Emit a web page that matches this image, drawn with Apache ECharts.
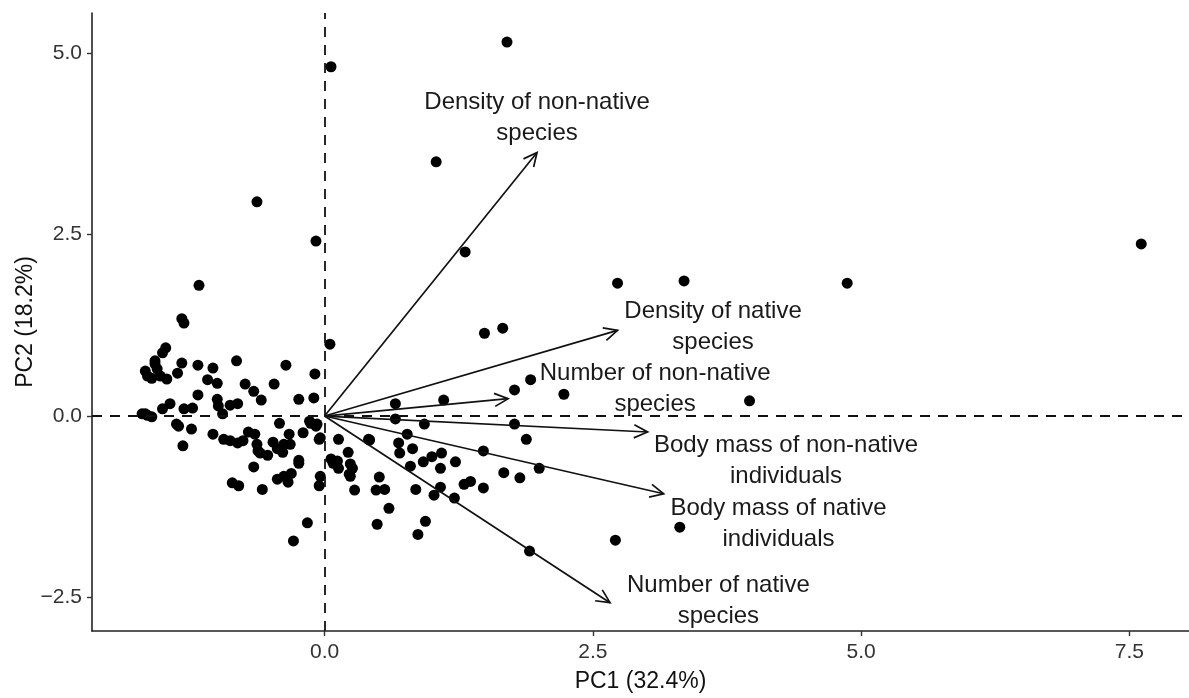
<!DOCTYPE html>
<html>
<head>
<meta charset="utf-8">
<script src="https://cdn.jsdelivr.net/npm/echarts@6/dist/echarts.min.js"></script>
<style>
  html, body { margin: 0; padding: 0; background: #fff; }
  #pca { width: 1189px; height: 698px; }
</style>
</head>
<body>
<div id="pca"></div>
<script>
  // site scores
  const pc1 = [
    0.06, -0.63, -0.08, 1.70, 1.04, 1.31, 2.73, 3.35, 4.87, 7.61, 3.96,
    1.49, 1.66, 0.05, -0.09, -0.10, 1.92, 1.77, 2.23, 0.66, 1.11,
    0.66, 0.93, 1.77, 1.88, 0.77, 0.42, 0.69, 0.70, 0.82, 0.13, 0.22,
    1.48, 1.09, 1.00, 1.22, 0.92, -0.20, -0.13, -0.04, 0.08, 0.24,
    2.00, 1.67, 1.82, 1.48, 1.30, 1.36, 1.08, 1.08, 1.02, 1.21, 0.85,
    0.94, 0.87, 0.60, 0.49, 0.51, 0.48, 0.56, 0.28, 0.23, 0.13,
    -0.04, -0.05, -0.16, 1.91, 2.71, 3.31, 0.80,
    -0.86, -0.80, -0.66, -0.58, -0.44, -0.38, -0.34, -0.31, -0.24, -0.29,
    -1.17, -1.33, -1.31, -1.48, -1.51, -1.58, -1.67, -1.61, -1.58, -1.56,
    -1.53, -1.65, -1.33, -1.37, -1.47, -1.18, -1.04, -0.82, -0.36, -1.09,
    -1.00, -0.74, -0.66, -0.59, -0.47, -0.24, -1.18, -1.00, -0.99, -0.88,
    -0.81, -0.95, -1.23, -1.31, -1.44, -1.51, -1.70, -1.65, -1.61, -1.38,
    -1.36, -1.24, -1.32, -1.04, -0.94, -0.88, -0.81, -0.71, -0.65, -0.63,
    -0.62, -0.53, -0.48, -0.42, -0.39, -0.38, -0.33, -0.24, -0.07, -0.05,
    -0.14, -0.08, 0.06, 0.12, 0.26, -0.76, -0.44, -0.60, -0.32, -1.67,
    0.24, 0.41
  ];
  const pc2 = [
    4.81, 2.95, 2.41, 5.15, 3.50, 2.26, 1.83, 1.86, 1.83, 2.37, 0.21,
    1.14, 1.21, 0.99, 0.58, 0.25, 0.50, 0.36, 0.30, 0.17, 0.22,
    -0.04, -0.11, -0.11, -0.32, -0.25, -0.33, -0.37, -0.51, -0.45, -0.32, -0.50,
    -0.48, -0.51, -0.56, -0.63, -0.63, -0.23, -0.10, -0.30, -0.65, -0.66,
    -0.72, -0.78, -0.85, -0.99, -0.94, -0.90, -0.72, -0.98, -1.09, -1.13, -1.01,
    -1.45, -1.63, -1.27, -1.49, -0.84, -1.02, -1.01, -1.02, -0.80, -0.72,
    -0.83, -0.96, -1.47, -1.86, -1.71, -1.53, -0.69,
    -0.92, -0.96, -0.70, -1.01, -0.87, -0.83, -0.91, -0.79, -0.65, -1.72,
    1.80, 1.34, 1.28, 0.94, 0.87, 0.76, 0.62, 0.52, 0.72, 0.65,
    0.55, 0.55, 0.73, 0.59, 0.51, 0.70, 0.66, 0.76, 0.70, 0.50,
    0.45, 0.44, 0.34, 0.22, 0.44, 0.23, 0.29, 0.23, 0.14, 0.15,
    0.17, 0.03, 0.11, 0.10, 0.17, 0.10, 0.03, 0.01, -0.01, -0.11,
    -0.14, -0.18, -0.41, -0.25, -0.32, -0.34, -0.37, -0.22, -0.25, -0.39,
    -0.48, -0.54, -0.36, -0.10, -0.50, -0.39, -0.25, -0.61, -0.11, -0.32,
    -0.07, -0.14, -0.59, -0.62, -0.72, -0.34, -0.45, -0.51, -0.39, 0.03,
    -0.83, -0.32
  ];

  // variable loadings (arrow tips) and where their labels sit
  const varNames = [
    'Density of non-native\nspecies',
    'Density of native\nspecies',
    'Number of non-native\nspecies',
    'Body mass of non-native\nindividuals',
    'Body mass of native\nindividuals',
    'Number of native\nspecies'
  ];
  const loadPC1 = [1.98, 2.73, 1.71, 3.01, 3.16, 2.66];
  const loadPC2 = [3.63, 1.18, 0.24, -0.22, -1.07, -2.57];
  const labelPC1 = [1.98, 3.62, 3.08, 4.30, 4.23, 3.67];
  const labelPC2 = [4.10, 1.23, 0.38, -0.62, -1.48, -2.55];

  const ticksX = [0, 2.5, 5, 7.5];
  const ticksY = [-2.5, 0, 2.5, 5];

  const font = '"Liberation Sans", Arial, Helvetica, sans-serif';
  const fmt = v => v.toFixed(1).replace('-', '\u2212');

  let sites = pc1.map((x, i) => [x, pc2[i]]);
  let arrows = varNames.map((n, i) => [loadPC1[i], loadPC2[i], labelPC1[i], labelPC2[i], n]);

  let myChart = echarts.init(document.getElementById('pca'));
  let option = {
    animation: false,
    grid: {left: 92, right: 0, top: 13, bottom: 67, outerBoundsMode: 'none'},
    xAxis: {
      type: 'value',
      min: -2.167,
      max: 8.055,
      name: 'PC1 (32.4%)',
      nameLocation: 'middle',
      nameGap: 39,
      nameMoveOverlap: false,
      nameTextStyle: {fontFamily: font, fontSize: 23, color: '#111'},
      splitLine: {show: false},
      axisLine: {onZero: false, lineStyle: {color: '#222', width: 1.6}},
      axisTick: {customValues: ticksX, length: 5, lineStyle: {color: '#333', width: 1.4}},
      axisLabel: {customValues: ticksX, formatter: fmt, margin: 11, fontFamily: font, fontSize: 21, color: '#333'}
    },
    yAxis: {
      type: 'value',
      min: -2.96,
      max: 5.55,
      name: 'PC2 (18.2%)',
      nameLocation: 'middle',
      nameGap: 55,
      nameMoveOverlap: false,
      nameTextStyle: {fontFamily: font, fontSize: 23, color: '#111'},
      splitLine: {show: false},
      axisLine: {onZero: false, lineStyle: {color: '#222', width: 1.6}},
      axisTick: {customValues: ticksY, length: 5, lineStyle: {color: '#333', width: 1.4}},
      axisLabel: {customValues: ticksY, formatter: fmt, margin: 10, fontFamily: font, fontSize: 21, color: '#333'}
    },
    series: [
      {
        type: 'scatter',
        data: sites,
        symbolSize: 11,
        itemStyle: {color: '#000', opacity: 1},
        z: 2,
        markLine: {
          silent: true,
          symbol: 'none',
          label: {show: false},
          lineStyle: {color: '#111', width: 1.8, type: [10, 8]},
          data: [{xAxis: 0}, {yAxis: 0}]
        }
      },
      {
        type: 'custom',
        data: arrows,
        z: 3,
        renderItem: (params, api) => {
          const o = api.coord([0, 0]);
          const t = api.coord([api.value(0), api.value(1)]);
          const l = api.coord([api.value(2), api.value(3)]);
          const ang = Math.atan2(t[1] - o[1], t[0] - o[0]);
          const len = 15, spread = Math.PI / 7;
          const h1 = [t[0] - len * Math.cos(ang - spread), t[1] - len * Math.sin(ang - spread)];
          const h2 = [t[0] - len * Math.cos(ang + spread), t[1] - len * Math.sin(ang + spread)];
          const stroke = {stroke: '#111', lineWidth: 1.7, fill: null};
          return {
            type: 'group',
            children: [
              {type: 'line', shape: {x1: o[0], y1: o[1], x2: t[0], y2: t[1]}, style: stroke},
              {type: 'polyline', shape: {points: [h1, t, h2]}, style: stroke},
              {
                type: 'text',
                style: {
                  text: varNames[params.dataIndex],
                  x: l[0], y: l[1],
                  align: 'center', verticalAlign: 'middle',
                  font: '24px ' + font, lineHeight: 31,
                  fill: '#1a1a1a'
                }
              }
            ]
          };
        }
      }
    ]
  };
  myChart.setOption(option);
</script>
</body>
</html>
